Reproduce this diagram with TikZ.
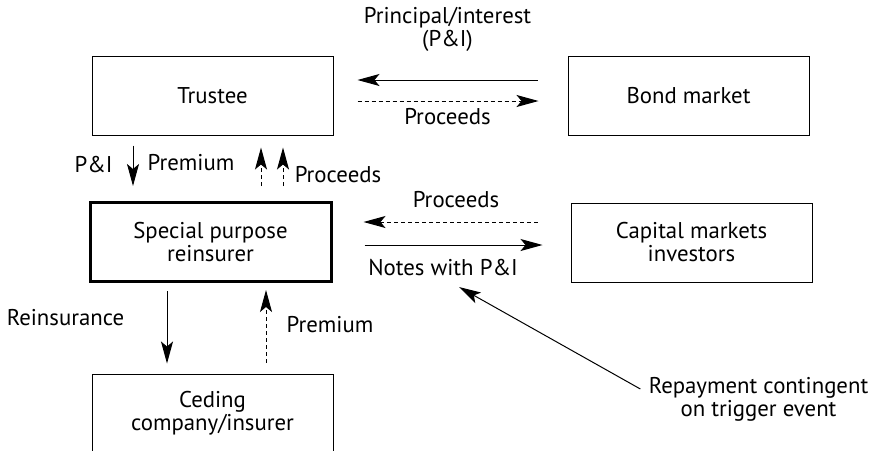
\documentclass[tikz,border=0pt]{standalone}
\usepackage{fontspec}
\setmainfont{PT Sans}
\usetikzlibrary{arrows.meta, positioning, calc}

\begin{document}
\begin{tikzpicture}[x=0.5pt, y=-0.5pt,
    every node/.style={font=\fontsize{11.4}{11.5}\selectfont},
    party/.style={draw, line width=0.5pt, minimum width=120.5pt, minimum height=39.5pt, align=center, inner sep=0pt},
    flow/.style={-{Stealth[length=11pt, width=6pt, inset=2.5pt]}, line width=0.5pt},
    back/.style={flow, dash pattern=on 2pt off 1.5pt},
    lbl/.style={align=center, inner sep=1pt}]
      \useasboundingbox (0,0) rectangle (882,450);

      \node[party] (trustee) at (212.5,95.5) {Trustee};
      \node[party] (bond) at (688.5,95.5) {Bond market};
      \node[party, line width=1.5pt] (spr) at (210.5,242) {Special purpose\\reinsurer};
      \node[party] (cap) at (691.5,242.5) {Capital markets\\investors};
      \node[party] (ceding) at (212.5,413.5) {Ceding\\company/insurer};

      \draw[flow] ($(bond.west)+(-30,-15.5)$) -- ($(trustee.east)+(24,-15.5)$);
      \draw[back] ($(trustee.east)+(24,5.5)$) -- ($(bond.west)+(-29,5.5)$);
      \node[lbl] (pi) at (447.5,29) {Principal/interest\\(P\&I)};
      \node[lbl] (procA) at (447.5,117) {Proceeds};

      \draw[flow] ($(trustee.south)+(-79.5,10)$) -- ($(spr.north)+(-77.5,-15)$);
      \node[lbl] (piB) at (93.5,165) {P\&I};
      \node[lbl] (premA) at (191,163) {Premium};
      \draw[back] ($(spr.north)+(50.5,-15)$) -- ($(trustee.south)+(48.5,12)$);
      \draw[back] ($(spr.north)+(72.5,-15)$) -- ($(trustee.south)+(70.5,12)$);
      \node[lbl] (procB) at (338,175) {Proceeds};

      \draw[back] ($(cap.west)+(-33,-20.5)$) -- ($(spr.east)+(31,-20)$);
      \node[lbl] (procC) at (456,200) {Proceeds};
      \draw[flow] ($(spr.east)+(32,3)$) -- ($(cap.west)+(-28,2.5)$);
      \node[lbl] (notes) at (443,268) {Notes with P\&I};

      \draw[flow] ($(spr.south)+(-43.5,8)$) -- ($(ceding.north)+(-45.5,-10)$);
      \node[lbl] (reins) at (65.5,318) {Reinsurance};
      \draw[back] ($(ceding.north)+(53.5,-11)$) -- ($(spr.south)+(55.5,7)$);
      \node[lbl] (premB) at (330,325) {Premium};

      \node[lbl] (repay) at (758.5,399) {Repayment contingent\\on trigger event};
      \coordinate (trig) at (459,287);
      \draw[flow] ($(repay.west)+(-6,-10)$) -- (trig);

    \end{tikzpicture}
\end{document}
